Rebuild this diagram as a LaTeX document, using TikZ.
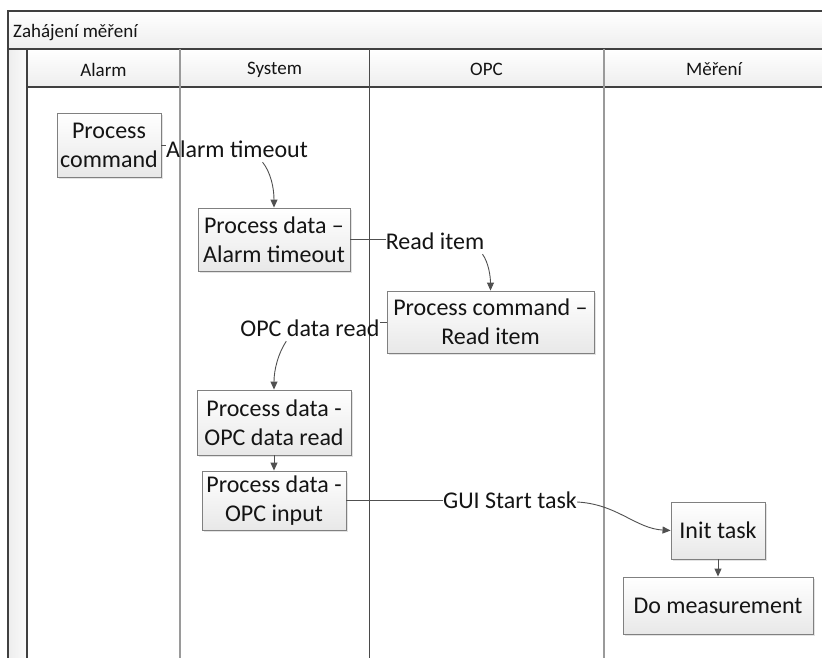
\documentclass[tikz,border=0pt]{standalone}
\usepackage{fontspec}
\setmainfont{Carlito}
\usetikzlibrary{arrows.meta,shadows,calc}
\definecolor{framec}{HTML}{404040}
\definecolor{lanegray}{HTML}{9A9A9A}
\definecolor{lanedark}{HTML}{4A4A4A}
\definecolor{boxline}{HTML}{808080}
\definecolor{connc}{HTML}{505050}
\definecolor{txt}{HTML}{141414}
\definecolor{hdrbot}{HTML}{EEEEEE}
\begin{document}
\begin{tikzpicture}[x=1pt,y=-1pt,
  box/.style={draw=boxline, line width=0.9pt, top color=white, bottom color=black!9,
    drop shadow={shadow xshift=1.5pt,shadow yshift=-1.5pt,fill=black!22},
    align=center, font=\fontsize{24}{29}\selectfont, text=txt, inner sep=0pt},
  lbl/.style={font=\fontsize{24}{29}\selectfont, text=txt, inner sep=0pt, text height=17pt, text depth=5pt},
  hdr/.style={font=\fontsize{19}{23}\selectfont, text=txt, inner sep=0pt},
  link/.style={draw=connc, line width=0.9pt},
  arr/.style={link, -{Triangle[length=8pt,width=7pt]}},
  frameline/.style={draw=framec, line width=1.4pt},
  graylane/.style={draw=lanegray, line width=1.6pt},
  darklane/.style={draw=lanedark, line width=1.2pt},
]
\useasboundingbox (0,0) rectangle (822,657);
% backgrounds
\shade[top color=white, bottom color=hdrbot] (8,11) rectangle (830,49);
\shade[top color=white, bottom color=hdrbot] (27,49) rectangle (830,87);
\shade[left color=black!7, right color=black!2] (8,49) rectangle (27,670);
% frame lines
\draw[frameline] (8,670) -- (8,11) -- (830,11);
\draw[frameline] (8,49) -- (830,49);
\draw[frameline] (27,87) -- (830,87);
\draw[frameline] (27,49) -- (27,670);
\draw[graylane] (180,49) -- (180,670);
\draw[darklane] (369.5,49) -- (369.5,670);
\draw[graylane] (604,49) -- (604,670);
% header texts
\node[hdr, anchor=west] (title) at (13,32.5) {Zahájení měření};
\node[hdr] (hAlarm) at (103.5,69.5) {Alarm};
\node[hdr] (hSystem) at (274.5,69.5) {System};
\node[hdr] (hOPC) at (486.5,69.5) {OPC};
\node[hdr] (hMereni) at (714,69.5) {Měření};
% boxes
\node[box, minimum width=104pt, minimum height=64pt] (pc) at (109,145) {Process\\command};
\node[box, minimum width=152pt, minimum height=63pt] (pad) at (274,239.5) {Process data –\\Alarm timeout};
\node[box, minimum width=207pt, minimum height=62pt] (prc) at (490.5,322) {Process command –\\Read item};
\node[box, minimum width=154pt, minimum height=65pt] (pdo) at (274,422.5) {Process data -\\OPC data read};
\node[box, minimum width=144pt, minimum height=59pt] (pdi) at (274,500.5) {Process data -\\OPC input};
\node[box, minimum width=94pt, minimum height=57pt] (it) at (718,530.5) {Init task};
\node[box, minimum width=190pt, minimum height=57pt] (dm) at (718,605.5) {Do measurement};
% labels
\node[lbl] (at1) at (237,151) {Alarm timeout};
\node[lbl] (ri) at (435,243) {Read item};
\node[lbl] (odr) at (310,330) {OPC data read};
\node[lbl] (gst) at (510,502) {GUI Start task};
% connectors
\draw[link] (pc.east) -- (pc.east -| at1.west);
\coordinate (at1s) at ($(at1.south west)!0.68!(at1.south east)$);
\draw[arr] (at1s) .. controls +(8,10) and +(0,-20) .. (pad.north);
\draw[link] (pad.east) -- (pad.east -| ri.west);
\coordinate (ris) at ($(ri.south west)!0.98!(ri.south east)$);
\draw[arr] (ris) .. controls +(6,8) and +(0,-14) .. (prc.north);
\draw[link] (prc.west) -- (prc.west -| odr.east);
\coordinate (odrs) at ($(odr.south west)!0.33!(odr.south east)$);
\draw[arr] (odrs) .. controls +(-8,12) and +(0,-20) .. (pdo.north);
\draw[arr] (pdo.south) -- (pdi.north);
\draw[link] (pdi.east) -- (pdi.east -| gst.west);
\draw[arr] (gst.east) .. controls +(40,2) and +(-35,-2) .. (it.west);
\draw[arr] (it.south) -- (dm.north);
\end{tikzpicture}
\end{document}
